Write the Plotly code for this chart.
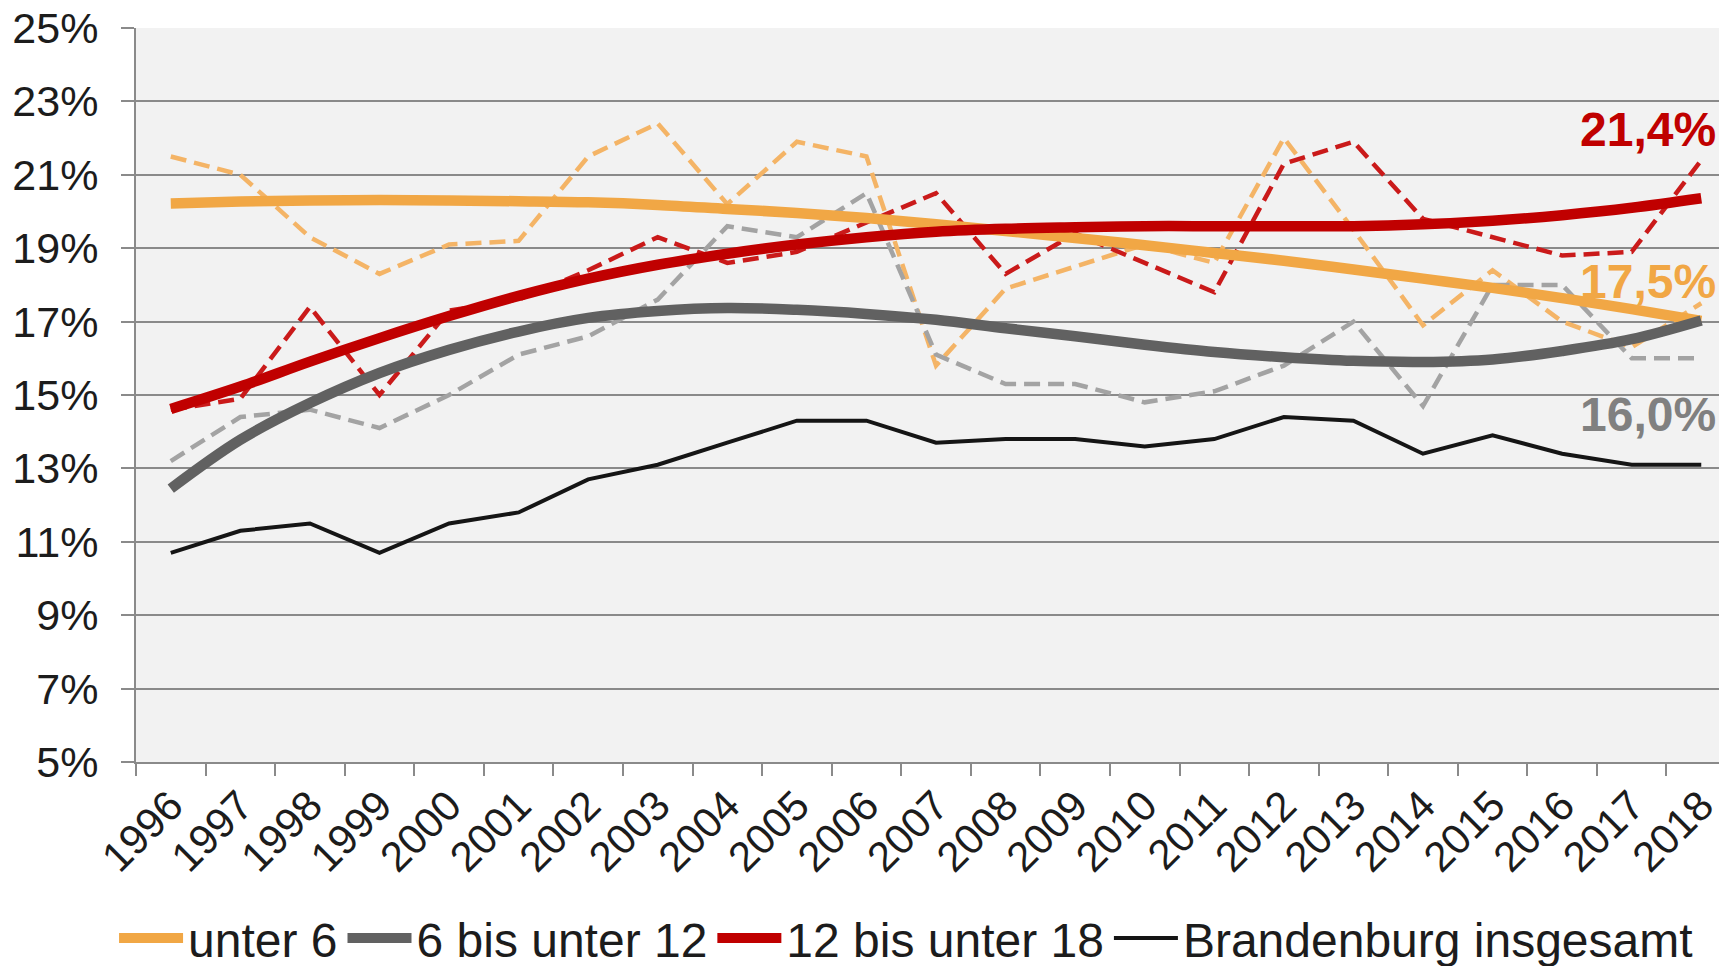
import plotly.graph_objects as go

# ---- data ----
years = ["1996", "1997", "1998", "1999", "2000", "2001", "2002", "2003", "2004", "2005",
         "2006", "2007", "2008", "2009", "2010", "2011", "2012", "2013", "2014", "2015",
         "2016", "2017", "2018"]

unter_6 = [21.5, 21.0, 19.3, 18.3, 19.1, 19.2, 21.5, 22.4, 20.2, 21.9, 21.5, 15.8,
           17.9, 18.5, 19.1, 18.6, 22.0, 19.5, 16.9, 18.4, 17.0, 16.3, 17.5]
bis_12 = [13.2, 14.4, 14.6, 14.1, 15.0, 16.1, 16.6, 17.6, 19.6, 19.3, 20.5, 16.1,
          15.3, 15.3, 14.8, 15.1, 15.8, 17.0, 14.7, 18.0, 18.0, 16.0, 16.0]
bis_18 = [14.6, 14.9, 17.4, 15.0, 17.3, 17.6, 18.4, 19.3, 18.6, 18.9, 19.7, 20.5,
          18.3, 19.4, 18.6, 17.8, 21.3, 21.9, 19.8, 19.3, 18.8, 18.9, 21.4]
brandenburg = [10.7, 11.3, 11.5, 10.7, 11.5, 11.8, 12.7, 13.1, 13.7, 14.3, 14.3, 13.7,
               13.8, 13.8, 13.6, 13.8, 14.4, 14.3, 13.4, 13.9, 13.4, 13.1, 13.1]

# trend curves
trend_unter_6 = [20.22, 20.27, 20.30, 20.31, 20.30, 20.28, 20.25, 20.18, 20.07, 19.96,
                 19.82, 19.65, 19.47, 19.28, 19.08, 18.87, 18.66, 18.42, 18.17, 17.92,
                 17.64, 17.34, 17.02]
trend_bis_12 = [12.45, 13.78, 14.78, 15.60, 16.23, 16.73, 17.10, 17.29, 17.37, 17.32,
                17.21, 17.05, 16.82, 16.60, 16.37, 16.17, 16.03, 15.93, 15.90, 15.97,
                16.20, 16.52, 17.03]
trend_bis_18 = [14.62, 15.23, 15.91, 16.55, 17.15, 17.70, 18.17, 18.55, 18.85, 19.10,
                19.30, 19.45, 19.53, 19.57, 19.60, 19.60, 19.60, 19.60, 19.65, 19.75,
                19.90, 20.10, 20.36]

y_ticks = [5, 7, 9, 11, 13, 15, 17, 19, 21, 23, 25]
y_tick_text = ["5%", "7%", "9%", "11%", "13%", "15%", "17%", "19%", "21%", "23%", "25%"]

# ---- styles ----
ORANGE = "#F1A745"
ORANGE_D = "#F4B466"
GRAY = "#616161"
GRAY_D = "#A3A3A3"
RED = "#C00000"
RED_D = "#CA1A1A"
BLACK = "#151515"
AXIS = "#8A8A8A"
FONT = "Liberation Sans, Arial, sans-serif"

fig = go.Figure()

dash = "16px,8px"
for vals, col, name in [(unter_6, ORANGE_D, "unter 6 (Werte)"),
                        (bis_12, GRAY_D, "6 bis unter 12 (Werte)"),
                        (bis_18, RED_D, "12 bis unter 18 (Werte)")]:
    fig.add_trace(go.Scatter(x=years, y=vals, mode="lines", name=name, showlegend=False,
                             line=dict(color=col, width=4.5, dash=dash), hoverinfo="skip"))

fig.add_trace(go.Scatter(x=years, y=brandenburg, mode="lines", name="Brandenburg insgesamt",
                         line=dict(color=BLACK, width=4), legendrank=4))

for vals, col, name, rank in [(trend_unter_6, ORANGE, "unter 6", 1),
                              (trend_bis_12, GRAY, "6 bis unter 12", 2),
                              (trend_bis_18, RED, "12 bis unter 18", 3)]:
    fig.add_trace(go.Scatter(x=years, y=vals, mode="lines", name=name, legendrank=rank,
                             line=dict(color=col, width=10.5, shape="spline", smoothing=1.0)))

ann_font = dict(family=FONT, size=48)
fig.add_annotation(x=22.24, y=22.23, xref="x", yref="y", text="<b>21,4%</b>", showarrow=False,
                   xanchor="right", yanchor="middle", font=dict(ann_font, color=RED))
fig.add_annotation(x=22.24, y=18.09, xref="x", yref="y", text="<b>17,5%</b>", showarrow=False,
                   xanchor="right", yanchor="middle", font=dict(ann_font, color=ORANGE))
fig.add_annotation(x=22.24, y=14.46, xref="x", yref="y", text="<b>16,0%</b>", showarrow=False,
                   xanchor="right", yanchor="middle", font=dict(ann_font, color="#808080"))

# page body has an 8px margin: figure is 1719x958 so it fills the 1727x966 window
fig.update_layout(
    width=1719, height=958,
    margin=dict(l=128, r=0, t=20, b=204, pad=0, autoexpand=False),
    paper_bgcolor="white", plot_bgcolor="#F2F2F2",
    font=dict(family=FONT, color="#1C1C1C"),
    showlegend=True,
    legend=dict(orientation="h", xref="container", yref="container", x=0.0617, y=0.029,
                xanchor="left", yanchor="middle", font=dict(family=FONT, size=48, color="#1C1C1C"),
                itemwidth=64, traceorder="normal", bgcolor="rgba(0,0,0,0)",
                tracegroupgap=0, itemclick=False),
    xaxis=dict(type="category", categoryorder="array", categoryarray=years, automargin=False,
               range=[-0.5, 22.37], tickangle=-45, ticks="outside", tickson="boundaries",
               ticklen=12, tickwidth=2, tickcolor=AXIS, showline=True, linecolor=AXIS,
               linewidth=2, showgrid=False, zeroline=False, ticklabeloverflow="allow",
               tickfont=dict(family=FONT, size=42, color="#1C1C1C")),
    yaxis=dict(range=[5, 25], tickvals=y_ticks, ticktext=y_tick_text, ticks="outside",
               automargin=False, ticklabeloverflow="allow",
               ticklen=13, tickwidth=2, tickcolor=AXIS, showline=True, linecolor=AXIS,
               linewidth=2, showgrid=True, gridcolor=AXIS, gridwidth=2, zeroline=False,
               tickfont=dict(family=FONT, size=43, color="#1C1C1C"), ticklabelstandoff=14),
)

fig.write_html("out.html")
